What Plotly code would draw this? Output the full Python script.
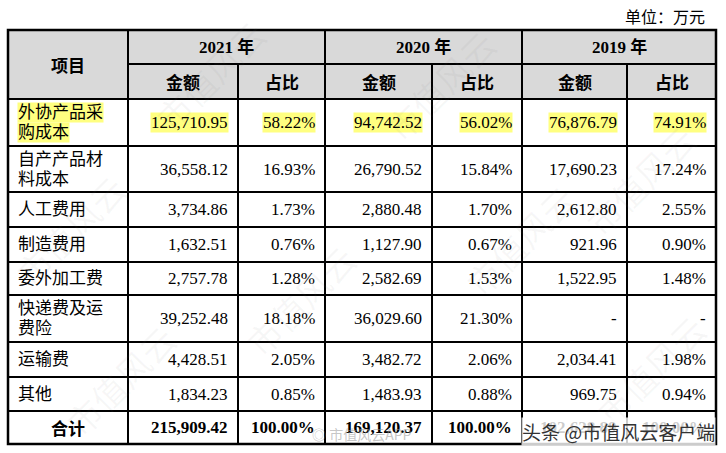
import plotly.graph_objects as go

# ---- data (单位：万元) ----
items = ["外协产品采购成本", "自产产品材料成本", "人工费用", "制造费用",
         "委外加工费", "快递费及运费险", "运输费", "其他"]
years = ["2021 年", "2020 年", "2019 年"]

amount_2021 = [125710.95, 36558.12, 3734.86, 1632.51, 2757.78, 39252.48, 4428.51, 1834.23]
share_2021 = [58.22, 16.93, 1.73, 0.76, 1.28, 18.18, 2.05, 0.85]
amount_2020 = [94742.52, 26790.52, 2880.48, 1127.90, 2582.69, 36029.60, 3482.72, 1483.93]
share_2020 = [56.02, 15.84, 1.70, 0.67, 1.53, 21.30, 2.06, 0.88]
amount_2019 = [76876.79, 17690.23, 2612.80, 921.96, 1522.95, None, 2034.41, 969.75]
share_2019 = [74.91, 17.24, 2.55, 0.90, 1.48, None, 1.98, 0.94]

total_amount = [215909.42, 169120.37, 102628.89]
total_share = [100.00, 100.00, 100.00]

highlight_rows = [0]

# ---- layout (pixel grid) ----
W, H = 726, 453
COL_EDGES = [8, 128, 238, 325, 432, 522, 627, 716]
ROW_EDGES = [30, 64, 99, 146, 192, 227, 262, 295, 342, 377, 411, 444]
LINE_GAP = 20

SERIF = "Liberation Serif, Noto Sans CJK SC, serif"
HEI = "Noto Sans CJK SC, sans-serif"
BLACK = "#000000"
HEADER_FILL = "#d9d9d9"
YELLOW = "#ffff80"


def fmt_amount(v):
    return "-" if v is None else f"{v:,.2f}"


def fmt_share(v):
    return "-" if v is None else f"{v:.2f}%"


def split(s, n=5):
    return [s[i:i + n] for i in range(0, len(s), n)]


fig = go.Figure()
shapes = []
annotations = []

# header background
shapes.append(dict(type="rect", x0=COL_EDGES[0], x1=COL_EDGES[-1], y0=ROW_EDGES[0], y1=ROW_EDGES[2],
                   fillcolor=HEADER_FILL, line_width=0, layer="below"))


def hline(y, x0, x1, w=2):
    shapes.append(dict(type="line", x0=x0, x1=x1, y0=y, y1=y, line=dict(color=BLACK, width=w)))


def vline(x, y0, y1, w=2):
    shapes.append(dict(type="line", x0=x, x1=x, y0=y0, y1=y1, line=dict(color=BLACK, width=w)))


# grid lines
hline(ROW_EDGES[1], COL_EDGES[1], COL_EDGES[-1])
for y in ROW_EDGES[2:-1]:
    hline(y, COL_EDGES[0], COL_EDGES[-1])
for i, x in enumerate(COL_EDGES[1:-1], start=1):
    if i % 2 == 1:
        vline(x, ROW_EDGES[0], ROW_EDGES[-1])
    else:
        vline(x, ROW_EDGES[1], ROW_EDGES[-1])
shapes.append(dict(type="rect", x0=COL_EDGES[0], x1=COL_EDGES[-1], y0=ROW_EDGES[0], y1=ROW_EDGES[-1],
                   line=dict(color=BLACK, width=2.5)))


def text(x, y, s, anchor="center", size=17, family=SERIF, bold=False, bg=None):
    annotations.append(dict(
        x=x, y=y, xref="x", yref="y", text=f"<b>{s}</b>" if bold else s,
        showarrow=False, xanchor=anchor, yanchor="middle", align="left",
        font=dict(family=family, size=size, color=BLACK),
        bgcolor=bg, borderpad=0,
    ))


def mid(a, b):
    return (a + b) / 2


# unit label
text(COL_EDGES[-1] - 10, 17, "单位：万元", anchor="right", size=16)

# header
text(mid(COL_EDGES[0], COL_EDGES[1]), mid(ROW_EDGES[0], ROW_EDGES[2]), "项目", family=HEI, size=17, bold=True)
for k, yr in enumerate(years):
    c0 = 1 + 2 * k
    text(mid(COL_EDGES[c0], COL_EDGES[c0 + 2]), mid(ROW_EDGES[0], ROW_EDGES[1]), yr, bold=True)
    text(mid(COL_EDGES[c0], COL_EDGES[c0 + 1]), mid(ROW_EDGES[1], ROW_EDGES[2]), "金额", family=HEI, size=17, bold=True)
    text(mid(COL_EDGES[c0 + 1], COL_EDGES[c0 + 2]), mid(ROW_EDGES[1], ROW_EDGES[2]), "占比", family=HEI, size=17, bold=True)

# body
columns = [amount_2021, share_2021, amount_2020, share_2020, amount_2019, share_2019]
for r, item in enumerate(items):
    y0, y1 = ROW_EDGES[r + 2], ROW_EDGES[r + 3]
    yc = mid(y0, y1)
    bg = YELLOW if r in highlight_rows else None
    lines = split(item)
    for j, ln in enumerate(lines):
        text(COL_EDGES[0] + 9, yc + (j - (len(lines) - 1) / 2) * LINE_GAP, ln, anchor="left", bg=bg)
    for c, col in enumerate(columns):
        s = fmt_amount(col[r]) if c % 2 == 0 else fmt_share(col[r])
        text(COL_EDGES[c + 2] - 9, yc, s, anchor="right", bg=bg)

# total row
yc = mid(ROW_EDGES[-2], ROW_EDGES[-1])
text(mid(COL_EDGES[0], COL_EDGES[1]), yc, "合计", family=HEI, size=17, bold=True)
for k in range(3):
    text(COL_EDGES[2 * k + 2] - 9, yc, fmt_amount(total_amount[k]), anchor="right", bold=True)
    text(COL_EDGES[2 * k + 3] - 9, yc, fmt_share(total_share[k]), anchor="right", bold=True)

# watermarks
for wx, wy in [(210, 75), (440, 85), (640, 180), (520, 240), (300, 300), (120, 380), (650, 370), (70, 230)]:
    annotations.append(dict(x=wx, y=wy, xref="x", yref="y", text="市值风云", showarrow=False,
                            textangle=-45, font=dict(family=HEI, size=34, color="rgba(120,120,120,0.06)")))
annotations.append(dict(x=362, y=434, xref="x", yref="y", text="◎ 市值风云APP", showarrow=False,
                        font=dict(family=HEI, size=14, color="rgba(150,150,150,0.55)")))
annotations.append(dict(x=618, y=431, xref="x", yref="y", text="头条 @市值风云客户端", showarrow=False,
                        bgcolor="rgba(255,255,255,0.8)", borderpad=0,
                        font=dict(family=HEI, size=19, color="#333333")))

fig.update_layout(
    width=W, height=H,
    margin=dict(l=0, r=0, t=0, b=0),
    paper_bgcolor="white", plot_bgcolor="white",
    xaxis=dict(range=[0, W], visible=False, fixedrange=True),
    yaxis=dict(range=[H, 0], visible=False, fixedrange=True),
    shapes=shapes, annotations=annotations,
    showlegend=False,
)

fig.write_html("out.html", config={"displayModeBar": False},
               post_script="document.body.style.margin='0';")
